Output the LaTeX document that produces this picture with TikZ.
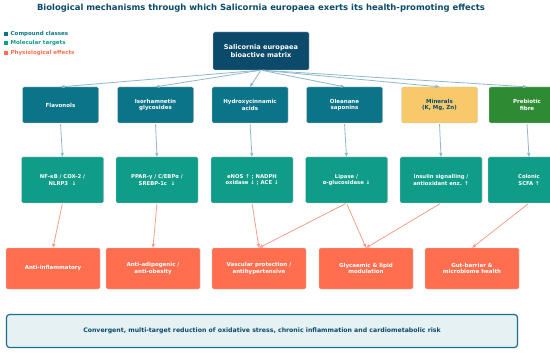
\documentclass[tikz,border=0pt]{standalone}
\usepackage{fontspec}
\setmainfont{DejaVu Sans}
\usetikzlibrary{arrows.meta}
\definecolor{navy}{HTML}{0B4A6B}
\definecolor{cclass}{HTML}{0B7489}
\definecolor{mtarget}{HTML}{0F9C88}
\definecolor{peffect}{HTML}{FF6E4E}
\definecolor{mineral}{HTML}{F7C96A}
\definecolor{fibre}{HTML}{2E8B34}
\definecolor{arrblue}{HTML}{8FB9C9}
\definecolor{arrcoral}{HTML}{F4A089}
\definecolor{bottomfill}{HTML}{E6F1F4}
\definecolor{bottomline}{HTML}{1F6E8C}
\tikzset{
  boxbase/.style={rounded corners=1.5pt, inner sep=1pt, align=center, text=white, draw=white!80!black, line width=0.3pt},
  rootbox/.style={boxbase, fill=navy, minimum width=96pt, minimum height=38pt, font=\fontsize{6.6}{7.6}\selectfont\bfseries},
  classbox/.style={boxbase, fill=cclass, minimum width=76pt, minimum height=36pt, font=\fontsize{5.5}{6.7}\selectfont\bfseries},
  targetbox/.style={boxbase, fill=mtarget, minimum width=82pt, minimum height=46pt, font=\fontsize{5.3}{6.5}\selectfont\bfseries},
  effectbox/.style={boxbase, fill=peffect, minimum width=94pt, minimum height=41pt, font=\fontsize{5.5}{6.7}\selectfont\bfseries},
  bluearrow/.style={draw=arrblue, line width=0.8pt, -{Triangle[length=4pt,width=3.2pt]}, shorten <=1pt},
  coralarrow/.style={draw=arrcoral, line width=0.8pt, -{Triangle[length=4pt,width=3.2pt]}, shorten <=1pt},
  legendsq/.style={inner sep=0pt, minimum size=4pt},
  legendtxt/.style={anchor=west, inner sep=0pt, font=\fontsize{5.5}{6.5}\selectfont\bfseries}
}
\begin{document}
\begin{tikzpicture}[x=1pt,y=-1pt]
\useasboundingbox (0,0) rectangle (550,353);
\fill[white] (0,0) rectangle (550,353);

% title
\node[text=navy, font=\fontsize{8.45}{9.8}\selectfont\bfseries] (title) at (261,8)
  {Biological mechanisms through which Salicornia europaea exerts its health-promoting effects};

% legend
\node[legendsq, fill=cclass] (lsq1) at (6,34) {};
\node[legendtxt, text=cclass] (ltx1) at (10.5,34) {Compound classes};
\node[legendsq, fill=mtarget] (lsq2) at (6,43.5) {};
\node[legendtxt, text=mtarget] (ltx2) at (10.5,43.5) {Molecular targets};
\node[legendsq, fill=peffect] (lsq3) at (6,53) {};
\node[legendtxt, text=peffect] (ltx3) at (10.5,53) {Physiological effects};

% root
\node[rootbox] (root) at (261,51) {Salicornia europaea\\bioactive matrix};

% compound classes
\node[classbox] (fla) at (60.5,105) {Flavonols};
\node[classbox] (iso) at (155.5,105) {Isorhamnetin\\glycosides};
\node[classbox] (hyd) at (250,105) {Hydroxycinnamic\\acids};
\node[classbox] (ole) at (344.5,105) {Oleanane\\saponins};
\node[classbox, fill=mineral, text=navy] (min) at (439.5,105) {Minerals\\(K, Mg, Zn)};
\node[classbox, fill=fibre] (pre) at (527,105) {Prebiotic\\fibre};

% molecular targets
\node[targetbox] (nfk) at (62.5,180) {NF-κB / COX-2 /\\NLRP3\ \ ↓};
\node[targetbox] (ppa) at (157,180) {PPAR-γ / C/EBPα /\\SREBP-1c\ \ ↓};
\node[targetbox] (eno) at (252,180) {eNOS ↑ ; NADPH\\oxidase ↓ ; ACE ↓};
\node[targetbox] (lip) at (346.5,180) {Lipase /\\α-glucosidase ↓};
\node[targetbox] (ins) at (441,180) {Insulin signalling /\\antioxidant enz. ↑};
\node[targetbox] (col) at (529,180) {Colonic\\SCFA ↑};

% physiological effects
\node[effectbox] (ain) at (53,268.5) {Anti-inflammatory};
\node[effectbox] (aad) at (153,268.5) {Anti-adipogenic /\\anti-obesity};
\node[effectbox] (vas) at (259,268.5) {Vascular protection /\\antihypertensive};
\node[effectbox] (gly) at (366,268.5) {Glycaemic \& lipid\\modulation};
\node[effectbox] (gut) at (472,268.5) {Gut-barrier \&\\microbiome health};

% bottom summary
\node[rounded corners=3pt, fill=bottomfill, draw=bottomline, line width=1.2pt,
      minimum width=511pt, minimum height=33pt, text=navy,
      font=\fontsize{6.2}{7.2}\selectfont\bfseries] (sum) at (262,331)
  {Convergent, multi-target reduction of oxidative stress, chronic inflammation and cardiometabolic risk};

% root -> classes
\foreach \b in {fla,iso,hyd,ole,min,pre}
  \draw[bluearrow] (root.south) -- (\b.north);

% classes -> targets
\draw[bluearrow] (fla.south) -- (nfk.north);
\draw[bluearrow] (iso.south) -- (ppa.north);
\draw[bluearrow] (hyd.south) -- (eno.north);
\draw[bluearrow] (ole.south) -- (lip.north);
\draw[bluearrow] (min.south) -- (ins.north);
\draw[bluearrow] (pre.south) -- (col.north);

% targets -> effects
\draw[coralarrow] (nfk.south) -- (ain.north);
\draw[coralarrow] (ppa.south) -- (aad.north);
\draw[coralarrow] (eno.south) -- (vas.north);
\draw[coralarrow] (lip.south) -- (vas.north);
\draw[coralarrow] (lip.south) -- (gly.north);
\draw[coralarrow] (ins.south) -- (gly.north);
\draw[coralarrow] (col.south) -- (gut.north);
\end{tikzpicture}
\end{document}
